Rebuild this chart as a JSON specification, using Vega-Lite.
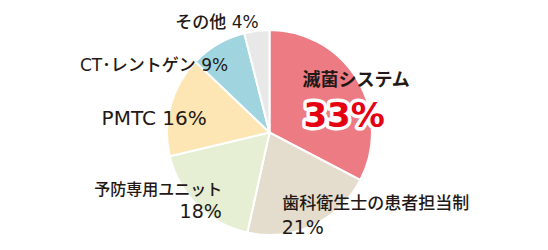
{
  "$schema": "https://vega.github.io/schema/vega-lite/v6.json",
  "width": 539,
  "height": 235,
  "autosize": "none",
  "padding": {"left": 0, "top": 15, "right": 9, "bottom": 0},
  "background": "white",
  "view": {"stroke": null},
  "data": {
    "values": [
      {"name": "滅菌システム", "value": 33, "i": 1},
      {"name": "歯科衛生士の患者担当制", "value": 21, "i": 2},
      {"name": "予防専用ユニット", "value": 18, "i": 3},
      {"name": "PMTC", "value": 16, "i": 4},
      {"name": "CT･レントゲン", "value": 9, "i": 5},
      {"name": "その他", "value": 4, "i": 6}
    ]
  },
  "transform": [
    {"calculate": "datum.value + '%'", "as": "pct"},
    {"calculate": "datum.name + ' ' + datum.value + '%'", "as": "full"}
  ],
  "encoding": {
    "theta": {"field": "value", "type": "quantitative", "stack": true},
    "order": {"field": "i", "type": "quantitative"}
  },
  "layer": [
    {
      "mark": {"type": "arc", "outerRadius": 102.5, "stroke": "white", "strokeWidth": 2},
      "encoding": {
        "color": {
          "field": "name", "type": "nominal", "legend": null,
          "scale": {
            "domain": ["滅菌システム", "歯科衛生士の患者担当制", "予防専用ユニット", "PMTC", "CT･レントゲン", "その他"],
            "range": ["#EC7B84", "#E4DCCC", "#E6EFD4", "#FDE6B3", "#A0D5DF", "#E8E8E8"]
          }
        }
      }
    },
    {
      "mark": {"type": "text", "radius": 63, "align": "left", "baseline": "middle", "dx": -21, "dy": -19, "font": "Noto Sans CJK JP", "fontSize": 18, "fontWeight": "bold", "fill": "#231815"},
      "encoding": {
        "detail": {"field": "name"},
        "text": {"condition": {"test": "datum.i === 1", "field": "name", "type": "nominal"}, "value": ""}
      }
    },
    {
      "mark": {"type": "text", "radius": 35, "align": "left", "baseline": "middle", "dx": 4, "dy": 3, "font": "DejaVu Sans", "fontSize": 34, "fontWeight": "bold", "fill": "white", "stroke": "white", "strokeWidth": 7, "strokeJoin": "round"},
      "encoding": {
        "detail": {"field": "name"},
        "text": {"condition": {"test": "datum.i === 1", "field": "pct", "type": "nominal"}, "value": ""}
      }
    },
    {
      "mark": {"type": "text", "radius": 35, "align": "left", "baseline": "middle", "dx": 4, "dy": 3, "font": "DejaVu Sans", "fontSize": 34, "fontWeight": "bold", "fill": "#E50012"},
      "encoding": {
        "detail": {"field": "name"},
        "text": {"condition": {"test": "datum.i === 1", "field": "pct", "type": "nominal"}, "value": ""}
      }
    },
    {
      "mark": {"type": "text", "radius": 75, "align": "left", "baseline": "middle", "dx": -19, "dy": 3, "font": "DejaVu Sans, Noto Sans CJK JP", "fontSize": 17, "fontWeight": 500, "fill": "#231815"},
      "encoding": {
        "detail": {"field": "name"},
        "text": {"condition": {"test": "datum.i === 2", "field": "name", "type": "nominal"}, "value": ""}
      }
    },
    {
      "mark": {"type": "text", "radius": 100, "align": "left", "baseline": "middle", "dx": -30, "dy": 5, "font": "DejaVu Sans, Noto Sans CJK JP", "fontSize": 19, "fontWeight": 500, "fill": "#231815"},
      "encoding": {
        "detail": {"field": "name"},
        "text": {"condition": {"test": "datum.i === 2", "field": "pct", "type": "nominal"}, "value": ""}
      }
    },
    {
      "mark": {"type": "text", "radius": 76, "align": "right", "baseline": "middle", "dx": 6, "dy": 3, "font": "DejaVu Sans, Noto Sans CJK JP", "fontSize": 16, "fontWeight": 500, "fill": "#231815"},
      "encoding": {
        "detail": {"field": "name"},
        "text": {"condition": {"test": "datum.i === 3", "field": "name", "type": "nominal"}, "value": ""}
      }
    },
    {
      "mark": {"type": "text", "radius": 105, "align": "right", "baseline": "middle", "dx": 26, "dy": 5, "font": "DejaVu Sans, Noto Sans CJK JP", "fontSize": 19, "fontWeight": 500, "fill": "#231815"},
      "encoding": {
        "detail": {"field": "name"},
        "text": {"condition": {"test": "datum.i === 3", "field": "pct", "type": "nominal"}, "value": ""}
      }
    },
    {
      "mark": {"type": "text", "radius": 65, "align": "right", "baseline": "middle", "dx": 0, "dy": 3, "font": "DejaVu Sans, Noto Sans CJK JP", "fontSize": 20, "fontWeight": 500, "fill": "#231815"},
      "encoding": {
        "detail": {"field": "name"},
        "text": {"condition": {"test": "datum.i === 4", "field": "full", "type": "nominal"}, "value": ""}
      }
    },
    {
      "mark": {"type": "text", "radius": 80, "align": "right", "baseline": "middle", "dx": -1, "dy": 3, "font": "DejaVu Sans, Noto Sans CJK JP", "fontSize": 17, "fontWeight": 500, "fill": "#231815"},
      "encoding": {
        "detail": {"field": "name"},
        "text": {"condition": {"test": "datum.i === 5", "field": "full", "type": "nominal"}, "value": ""}
      }
    },
    {
      "mark": {"type": "text", "radius": 112, "align": "right", "baseline": "middle", "dx": 3, "dy": 2, "font": "DejaVu Sans, Noto Sans CJK JP", "fontSize": 17, "fontWeight": 500, "fill": "#231815"},
      "encoding": {
        "detail": {"field": "name"},
        "text": {"condition": {"test": "datum.i === 6", "field": "full", "type": "nominal"}, "value": ""}
      }
    }
  ]
}
